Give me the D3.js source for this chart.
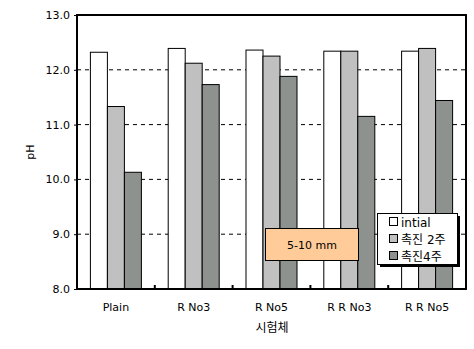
<!DOCTYPE html>
<html><head><meta charset="utf-8">
<script src="https://cdn.jsdelivr.net/npm/d3@7"></script>
<style>body{margin:0;background:#fff}svg{display:block}text{font-family:"DejaVu Sans","Noto Sans CJK KR",sans-serif;font-size:11px;fill:#000}</style>
</head><body><svg id="c" width="474" height="349"></svg>
<script>
const categories = ["Plain","R No3","R No5","R R No3","R R No5"];
const seriesNames = ["intial","촉진 2주","촉진4주"];
const initial = [12.32,12.39,12.36,12.34,12.34];
const week2 = [11.33,12.12,12.25,12.34,12.39];
const week4 = [10.13,11.73,11.88,11.15,11.44];
const yTicks = [8,9,10,11,12,13];
const colors = ["#ffffff","#c0c0c0","#8d928e"];
const series = [initial, week2, week4];

const svg = d3.select("#c");
const L=77,R=466,T=15,B=289;
const x = d3.scaleBand().domain(categories).range([L,R]);
const y = d3.scaleLinear().domain([8,13]).range([B,T]);
const bw = 17;

// gridlines
svg.append("g").selectAll("line").data(yTicks.filter(d=>d>8&&d<13)).join("line")
  .attr("x1",L).attr("x2",R).attr("y1",d=>y(d)).attr("y2",d=>y(d))
  .attr("stroke","#000").attr("stroke-width",1).attr("stroke-dasharray","4,4");

// bars
series.forEach((s,i)=>{
  svg.append("g").selectAll("rect").data(s).join("rect")
    .attr("x",(d,j)=>x(categories[j])+x.bandwidth()/2-1.5*bw+i*bw)
    .attr("y",d=>y(d)).attr("width",bw).attr("height",d=>B-y(d))
    .attr("fill",colors[i]).attr("stroke","#000").attr("stroke-width",1);
});

// frame
svg.append("rect").attr("x",L).attr("y",T).attr("width",R-L).attr("height",B-T)
  .attr("fill","none").attr("stroke","#000").attr("stroke-width",2);

// y axis
const ya = svg.append("g").attr("transform",`translate(${L},0)`)
  .call(d3.axisLeft(y).tickValues(yTicks).tickFormat(d3.format(".1f")).tickSize(3).tickPadding(4));
ya.select(".domain").remove();
ya.selectAll("line").attr("stroke","#000");
ya.selectAll("text").style("font-size","11px").style("font-family","DejaVu Sans").attr("fill","#000");

// x category boundary ticks
svg.append("g").selectAll("line").data(categories.slice(1)).join("line")
  .attr("x1",d=>x(d)).attr("x2",d=>x(d)).attr("y1",B).attr("y2",B-4)
  .attr("stroke","#000").attr("stroke-width",2);

// x labels
svg.append("g").selectAll("text").data(categories).join("text")
  .attr("x",d=>x(d)+x.bandwidth()/2).attr("y",311).attr("text-anchor","middle").text(d=>d);

svg.append("text").attr("x",272).attr("y",332).attr("text-anchor","middle").style("font-size","12px").text("시험체");
svg.append("text").attr("transform","translate(34,152) rotate(-90)").attr("text-anchor","middle").text("pH");

// annotation box
svg.append("rect").attr("x",265.5).attr("y",228.5).attr("width",93).attr("height",32)
  .attr("fill","#ffcc99").attr("stroke","#000").attr("stroke-width",1);
svg.append("text").attr("x",312).attr("y",248.5).attr("text-anchor","middle").text("5-10 mm");

// legend
const lg = svg.append("g");
lg.append("rect").attr("x",380).attr("y",216).attr("width",80).attr("height",51).attr("fill","#000");
lg.append("rect").attr("x",377.5).attr("y",213.5).attr("width",80).attr("height",51).attr("fill","#fff").attr("stroke","#000").attr("stroke-width",1);
seriesNames.forEach((n,i)=>{
  const cy = 222+i*17;
  lg.append("rect").attr("x",389.5).attr("y",cy-4.5).attr("width",8).attr("height",8)
    .attr("fill",colors[i]).attr("stroke","#000").attr("stroke-width",1);
  lg.append("text").attr("x",401).attr("y",cy+4.5).style("font-size","12px").text(n);
});
</script></body></html>
